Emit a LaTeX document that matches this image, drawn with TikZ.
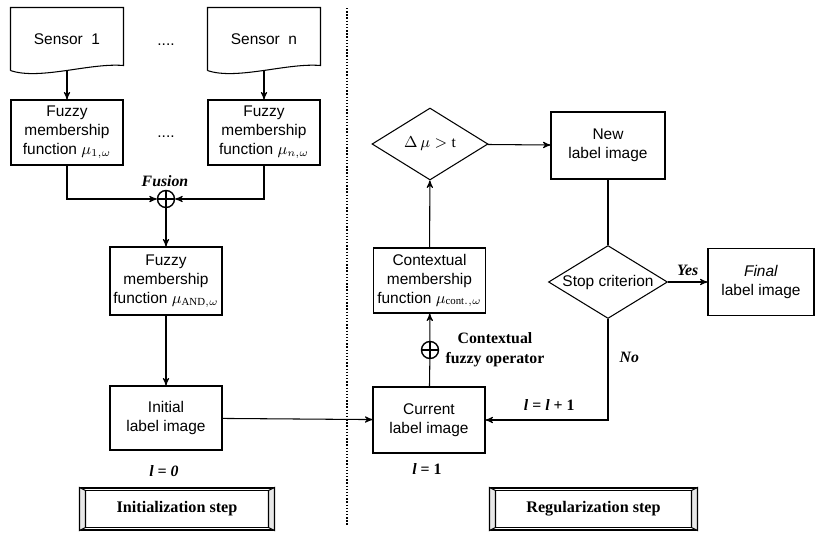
\documentclass[tikz,border=0pt]{standalone}
\usepackage{fontspec}
\setmainfont{Liberation Serif}
\setsansfont{Liberation Sans}
\usepackage{amsmath}
\usepackage{tikz}
\usetikzlibrary{positioning,arrows,shapes.geometric}

\begin{document}
\begin{tikzpicture}[->,>=stealth',x=0.02cm,y=-0.02cm,line width=0.6pt,
	box/.style={draw,rectangle,align=center,minimum width=2.24cm,minimum height=1.3cm,inner sep=1pt,font=\sffamily\fontsize{8.8}{10.8}\selectfont},
	sensor/.style={box,draw=none,minimum height=1.24cm},
	cond/.style={diamond,draw,inner sep=0pt,shape aspect=1.6,font=\sffamily\fontsize{8.8}{10.8}\selectfont},
	oper/.style={circle,draw,thick,minimum size=0.34cm,inner sep=0pt,path picture={\draw[-] (path picture bounding box.north) -- (path picture bounding box.south) (path picture bounding box.west) -- (path picture bounding box.east);}},
	lbl/.style={font=\bfseries\fontsize{9}{11.4}\selectfont,align=center},
	stepbox/.style={draw,minimum height=0.84cm,font=\bfseries\fontsize{9.2}{11}\selectfont}]
	\useasboundingbox (0,0) rectangle (815,538);

	% initialization step
	\node[sensor] (s1) at (67,39) {Sensor\ \ 1};
	\node[sensor] (sn) at (264,39) {Sensor\ \ n};
	\node[box,draw=none] (dt1) at (166,45) {....};
	\node[box] (f1) at (67,132.5) {Fuzzy\\membership\\function $\mu_{1,\omega}$};
	\node[box] (fn) at (264,132.5) {Fuzzy\\membership\\function $\mu_{n,\omega}$};
	\node[box,draw=none] (dt2) at (166,137) {....};
	\node[oper] (fus) at (166,199) {};
	\node[lbl,font=\bfseries\itshape\fontsize{9}{11}\selectfont] (fusl) at (165,181) {Fusion};
	\node[box,minimum height=1.36cm] (and) at (166,281) {Fuzzy\\membership\\function $\mu_{\mathrm{AND},\omega}$};
	\node[box,minimum height=1.28cm] (init) at (166,418) {Initial\\label image};
	\node[lbl,font=\bfseries\itshape\fontsize{9}{11}\selectfont] (l0) at (164,471) {l = 0};
	\node[stepbox,minimum width=3.88cm] (initstep) at (177,509) {Initialization step};

	% regularization step
	\node[box,minimum height=1.32cm] (cur) at (429,420) {Current\\label image};
	\node[lbl] (l1) at (427,469) {\textit{l} = 1};
	\node[oper] (cop) at (430,350) {};
	\node[lbl] (copl) at (495,350) {Contextual\\fuzzy operator};
	\node[box] (ctx) at (429.5,280.5) {Contextual\\membership\\function $\mu_{\mathrm{cont.},\omega}$};
	\node[cond,minimum width=2.32cm,minimum height=1.44cm] (delta) at (430,144) {$\Delta\,\mu > \mathrm{t}$};
	\node[box,minimum width=2.28cm,minimum height=1.34cm] (new) at (608,145.5) {New\\label image};
	\node[cond,minimum width=2.38cm,minimum height=1.46cm] (stop) at (608,282) {Stop criterion};
	\node[box,minimum width=2.12cm,minimum height=1.34cm] (final) at (761,282) {\textit{Final}\\label image};
	\node[stepbox,minimum width=4.14cm] (regstep) at (593.5,509) {Regularization step};

	% separator
	\coordinate (sepTop) at (347,8);
	\coordinate (sepBot) at (347,525);
	\draw[-,densely dotted,line width=0.8pt] (sepTop) -- (sepBot);

	% sensor outlines
	\foreach \s in {s1,sn}
		\draw[-] (\s.south west) -- (\s.north west) -- (\s.north east) -- ([shift={(0,-5)}]\s.south east) .. controls +(-33,-3) and +(29,10) .. (\s.south west);

	% step frames
	\foreach \b in {initstep,regstep}{
		\draw[-,fill=gray!18] (\b.north west) -- ([shift={(6,3)}]\b.north west) -- ([shift={(6,-3)}]\b.south west) -- (\b.south west) -- cycle;
		\draw[-,fill=gray!18] (\b.north east) -- ([shift={(-6,3)}]\b.north east) -- ([shift={(-6,-3)}]\b.south east) -- (\b.south east) -- cycle;
		\draw[-] ([shift={(6,3)}]\b.north west) rectangle ([shift={(-6,-3)}]\b.south east);
	}

	\draw 	(s1) -- (f1);
	\draw 	(sn) -- (fn);
	\draw 	(f1) |- (fus);
	\draw 	(fn) |- (fus);
	\draw 	(fus) -- (and);
	\draw 	(and) -- (init);
	\draw 	(init) -- (cur);
	\draw[-] (cur) -- (cop);
	\draw 	(cop) -- (ctx);
	\draw 	(ctx) -- (delta);
	\draw 	(delta) -- (new);
	\draw[-] (new) -- (stop);
	\draw 	(stop) -- node[lbl,font=\bfseries\itshape\fontsize{9}{11}\selectfont,above] {Yes} (final);
	\draw 	(stop) |- node[lbl,font=\bfseries\itshape\fontsize{9}{11}\selectfont,pos=0.19,right=3pt] {No}
			node[lbl,pos=0.74,above=2pt] {\textit{l} = \textit{l} + 1} (cur);
\end{tikzpicture}
\end{document}
